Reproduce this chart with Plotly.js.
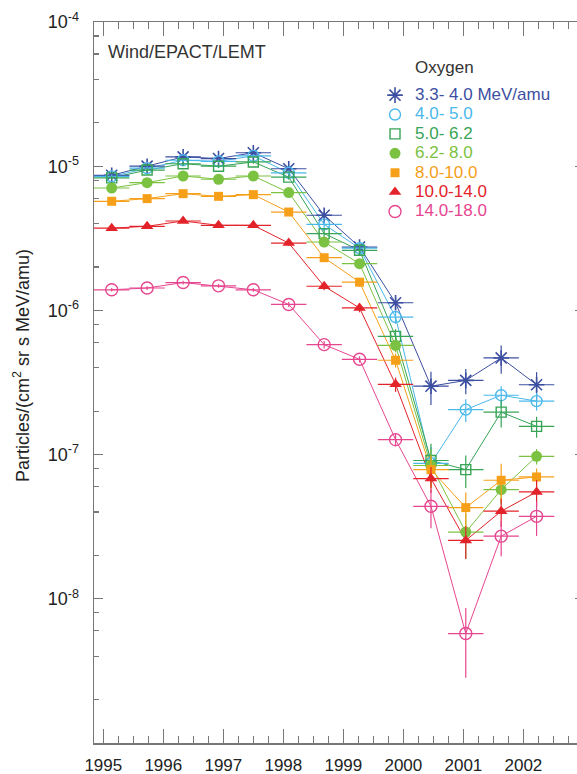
<!DOCTYPE html>
<html>
<head>
<meta charset="utf-8">
<script src="https://cdn.plot.ly/plotly-3.0.1.min.js"></script>
<style>
html,body{margin:0;padding:0;overflow:hidden;background:#fff;}
#chart{width:584px;height:774px;}
</style>
</head>
<body>
<div id="chart"></div>
<script>
// ---- data ----
const years = [1995.14, 1995.73, 1996.33, 1996.92, 1997.50, 1998.09, 1998.68, 1999.27, 1999.87, 2000.46, 2001.04, 2001.63, 2002.22];
const xHalfWidth = 0.295;

const seriesLabels = ["3.3- 4.0 MeV/amu", "4.0- 5.0", "5.0- 6.2", "6.2- 8.0", "8.0-10.0", "10.0-14.0", "14.0-18.0"];

const flux33 = [8.65e-6, 1.0e-5, 1.16e-5, 1.13e-5, 1.24e-5, 9.6e-6, 4.57e-6, 2.75e-6, 1.13e-6, 2.98e-7, 3.27e-7, 4.68e-7, 3.05e-7];
const flux40 = [8.5e-6, 9.7e-6, 1.1e-5, 1.08e-5, 1.18e-5, 9.0e-6, 3.95e-6, 2.7e-6, 8.99e-7, 8.7e-8, 2.05e-7, 2.58e-7, 2.35e-7];
const flux50 = [8.3e-6, 9.4e-6, 1.04e-5, 1.0e-5, 1.07e-5, 8.4e-6, 3.41e-6, 2.61e-6, 6.6e-7, 9.1e-8, 7.87e-8, 1.97e-7, 1.57e-7];
const flux62 = [7.06e-6, 7.69e-6, 8.55e-6, 8.12e-6, 8.55e-6, 6.56e-6, 2.98e-6, 2.11e-6, 5.72e-7, 8.4e-8, 2.9e-8, 5.71e-8, 9.73e-8];
const flux80 = [5.71e-6, 5.96e-6, 6.45e-6, 6.18e-6, 6.35e-6, 4.81e-6, 2.32e-6, 1.57e-6, 4.51e-7, 7.87e-8, 4.29e-8, 6.64e-8, 7.0e-8];
const flux100 = [3.72e-6, 3.83e-6, 4.17e-6, 3.89e-6, 3.89e-6, 2.93e-6, 1.47e-6, 1.04e-6, 3.07e-7, 6.82e-8, 2.54e-8, 4.05e-8, 5.51e-8];
const flux140 = [1.39e-6, 1.43e-6, 1.56e-6, 1.48e-6, 1.39e-6, 1.10e-6, 5.79e-7, 4.58e-7, 1.27e-7, 4.38e-8, 5.74e-9, 2.72e-8, 3.73e-8];

const err33 = [2.6e-7, 3e-7, 3.5e-7, 3.4e-7, 3.7e-7, 3.8e-7, 2.3e-7, 1.9e-7, 1.1e-7, 7.7e-8, 6.5e-8, 1.04e-7, 6.8e-8];
const err40 = [2.5e-7, 2.9e-7, 3.3e-7, 3.2e-7, 3.5e-7, 3.6e-7, 2.4e-7, 2.2e-7, 9e-8, 2.6e-8, 3.7e-8, 4e-8, 3.3e-8];
const err50 = [2.5e-7, 2.8e-7, 3.1e-7, 3e-7, 3.2e-7, 3.4e-7, 2.4e-7, 2.1e-7, 8e-8, 2.8e-8, 2e-8, 4.3e-8, 2.6e-8];
const err62 = [2.1e-7, 2.3e-7, 2.6e-7, 2.4e-7, 2.6e-7, 2.6e-7, 1.8e-7, 1.5e-7, 6e-8, 2.5e-8, 1e-8, 1.2e-8, 1.2e-8];
const err80 = [1.7e-7, 1.8e-7, 1.9e-7, 1.9e-7, 1.9e-7, 1.9e-7, 1.4e-7, 1.1e-7, 5e-8, 2e-8, 1.18e-8, 2e-8, 1e-8];
const err100 = [1.1e-7, 1.1e-7, 1.3e-7, 1.2e-7, 1.2e-7, 1.2e-7, 9e-8, 7e-8, 3.5e-8, 1.4e-8, 6.5e-9, 9e-9, 1.15e-8];
const err140 = [4e-8, 4.3e-8, 4.7e-8, 4.4e-8, 4.2e-8, 4.4e-8, 3.5e-8, 2.3e-8, 1.3e-8, 1.3e-8, 2.9e-9, 7.5e-9, 1e-8];

const yearLabels = ["1995", "1996", "1997", "1998", "1999", "2000", "2001", "2002"];
const yearTicks = [1995, 1996, 1997, 1998, 1999, 2000, 2001, 2002];
const decadeTicks = [1e-8, 1e-7, 1e-6, 1e-5, 1e-4];
const decadeLabels = ["10<sup>-8</sup>", "10<sup>-7</sup>", "10<sup>-6</sup>", "10<sup>-5</sup>", "10<sup>-4</sup>"];

// ---- styles ----
const fluxes = [flux33, flux40, flux50, flux62, flux80, flux100, flux140];
const errs = [err33, err40, err50, err62, err80, err100, err140];
const colors = ["#3d4fa1", "#4ab8ea", "#37a456", "#7cc242", "#f6a01a", "#e3232a", "#e6468f"];
const symbols = ["asterisk-open", "circle-open", "square-open", "circle", "square", "triangle-up", "circle-open"];
const sizes = [13, 11, 10, 11, 9, 11, 12];
const lineW = [1.6, 1.4, 1.4, 0, 0, 0, 1.4];

const FONT = "Liberation Sans, Arial, Helvetica, sans-serif";

const traces = [];
fluxes.forEach((f, i) => {
  traces.push({
    x: years, y: f, mode: "lines", type: "scatter",
    line: {color: colors[i], width: 1},
    showlegend: false, hoverinfo: "skip"
  });
});
fluxes.forEach((f, i) => {
  traces.push({
    x: years, y: f, mode: "markers", type: "scatter",
    name: '<span style="font-size:17px;color:' + colors[i] + '">' + seriesLabels[i] + '</span>',
    marker: {symbol: symbols[i], size: sizes[i], color: colors[i],
             line: {color: colors[i], width: lineW[i]}},
    error_y: {type: "data", array: errs[i], symmetric: true, color: colors[i], thickness: 1.2, width: 0},
    error_x: {type: "constant", value: xHalfWidth, color: colors[i], thickness: 1.2, width: 0}
  });
});

// minor tick positions on log axis: 2,4,6,8 x 10^k
const minorY = [];
for (let k = -9; k < -4; k++) {
  [2, 4, 6, 8].forEach(m => minorY.push(m * Math.pow(10, k)));
}

const axisColor = "#777";

const layout = {
  width: 584, height: 774,
  margin: {l: 94, r: 0, t: 22, b: 31},
  paper_bgcolor: "#fff", plot_bgcolor: "#fff",
  font: {family: FONT, color: "#222"},
  showlegend: true,
  xaxis: {
    range: [1994.845, 2003.01],
    tickmode: "array", tickvals: yearTicks, ticktext: yearLabels,
    ticks: "inside", ticklen: 14, tickwidth: 1.2, tickcolor: axisColor,
    showline: true, linecolor: axisColor, linewidth: 1.5, mirror: "ticks",
    showgrid: false, zeroline: false,
    tickfont: {size: 17, color: "#222", family: FONT},
    ticklabelstandoff: 6,
    minor: {tickmode: "linear", tick0: 1995, dtick: 0.25, ticks: "inside", ticklen: 7, tickwidth: 1.2, tickcolor: axisColor, showgrid: false}
  },
  yaxis: {
    type: "log", range: [-9, -4],
    tickmode: "array", tickvals: decadeTicks, ticktext: decadeLabels,
    ticks: "inside", ticklen: 9, tickwidth: 1.2, tickcolor: axisColor,
    showline: true, linecolor: axisColor, linewidth: 1.5, mirror: "ticks",
    showgrid: false, zeroline: false,
    tickfont: {size: 18, color: "#222", family: FONT},
    ticklabelstandoff: 10,
    minor: {tickmode: "array", tickvals: minorY, ticks: "inside", ticklen: 5, tickwidth: 1.2, tickcolor: axisColor, showgrid: false}
  },
  legend: {
    x: 0.5735, xanchor: "left", y: 0.9189, yanchor: "top",
    bgcolor: "rgba(0,0,0,0)", borderwidth: 0,
    font: {size: 12.6, family: FONT, color: "#333"},
    tracegroupgap: 0, itemclick: false, itemdoubleclick: false
  },
  annotations: [
    {text: "Wind/EPACT/LEMT", xref: "paper", yref: "paper", x: 0.0245, y: 0.9588,
     xanchor: "left", yanchor: "middle", showarrow: false,
     font: {size: 18, color: "#333", family: FONT}},
    {text: "Oxygen", xref: "paper", yref: "paper", x: (413 - 94) / 490, y: (743 - 68) / 721,
     xanchor: "left", yanchor: "middle", showarrow: false,
     font: {size: 17, color: "#333", family: FONT}},
    {text: "Particles/(cm<sup>2</sup> sr s MeV/amu)", xref: "paper", yref: "paper",
     x: (21 - 94) / 490, y: (743 - 366) / 721, xanchor: "center", yanchor: "middle",
     textangle: -90, showarrow: false,
     font: {size: 18, color: "#222", family: FONT}}
  ]
};

Plotly.newPlot("chart", traces, layout, {displayModeBar: false, staticPlot: true});
</script>
</body>
</html>
